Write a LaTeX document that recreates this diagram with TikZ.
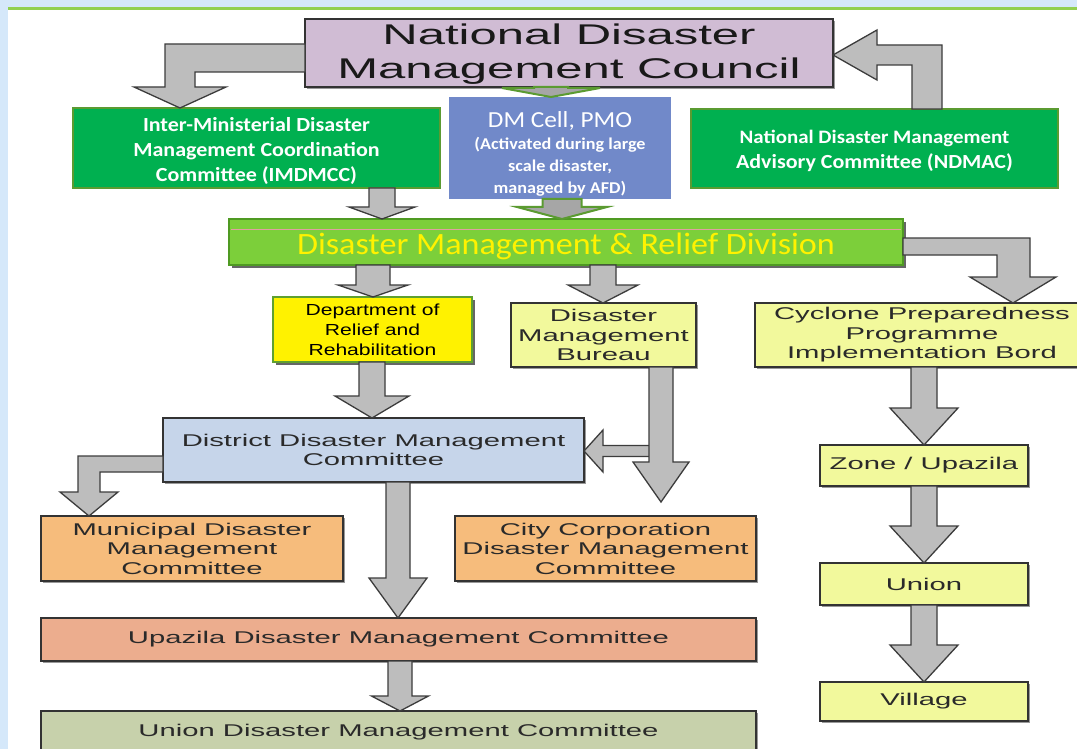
\documentclass[tikz,border=0pt]{standalone}
\usepackage{fontspec}
\usetikzlibrary{calc,shadows}
\newfontfamily\arw[FakeStretch=1.72]{Liberation Sans}
\newfontfamily\arm[FakeStretch=1.32]{Liberation Sans}
\newfontfamily\calw[FakeStretch=1.1]{Carlito}
\definecolor{bgblue}{HTML}{D5E8FA}
\definecolor{topgreen}{HTML}{92D050}
\definecolor{ndmcfill}{HTML}{D0BCD4}
\definecolor{gfill}{HTML}{00B050}
\definecolor{gborder}{HTML}{5B9B31}
\definecolor{dmcfill}{HTML}{7189C9}
\definecolor{dmrdfill}{HTML}{7CCF3A}
\definecolor{dmrdborder}{HTML}{4F9A22}
\definecolor{drrborder}{HTML}{5FA030}
\definecolor{lyfill}{HTML}{F2F99C}
\definecolor{ddmcfill}{HTML}{C6D5EA}
\definecolor{orfill}{HTML}{F6BC7C}
\definecolor{upfill}{HTML}{ECAD8E}
\definecolor{unfill}{HTML}{C7D1AB}
\definecolor{arrfill}{HTML}{BDBDBD}
\definecolor{arrline}{HTML}{3C3C3C}
\definecolor{txtgray}{HTML}{2A2A2A}
\definecolor{pinkline}{HTML}{E0A0A0}
\newcommand\boxat[7]{\node[#2, anchor=north west, minimum width={(#5)-(#3)}, minimum height={(#6)-(#4)}] (#1) at (#3,#4) {#7};}
\newcommand\barrdn[7]{\path[#1] let \p1=(#3), \p2=(#4) in (#2pt-#5pt,\y1) -- (#2pt+#5pt,\y1) -- (#2pt+#5pt,\y2+#7pt) -- (#2pt+#6pt,\y2+#7pt) -- (#2pt,\y2) -- (#2pt-#6pt,\y2+#7pt) -- (#2pt-#5pt,\y2+#7pt) -- cycle;}
\newcommand\barrlt[6]{\path[#1] let \p1=(#2), \p2=(#3) in (\x1,\y1+#4pt) -- (\x2+#6pt,\y1+#4pt) -- (\x2+#6pt,\y1+#5pt) -- (\x2,\y1) -- (\x2+#6pt,\y1-#5pt) -- (\x2+#6pt,\y1-#4pt) -- (\x1,\y1-#4pt) -- cycle;}
\begin{document}
\begin{tikzpicture}[x=1pt,y=-1pt,
  base/.style={inner sep=0pt, outer sep=0pt, align=center},
  shad/.style={drop shadow={shadow xshift=2pt,shadow yshift=-2pt,opacity=0.4,fill=black}},
  darkbox/.style={base, shad, draw=black!80, line width=1.3pt, text=txtgray, font=\arw\fontsize{17}{19.5}\selectfont},
  ndmcbox/.style={base, shad, fill=ndmcfill, draw=black!80, line width=1.5pt, text=black!90, font=\arw\fontsize{28.5}{34}\selectfont},
  greenbox/.style={base, fill=gfill, draw=gborder, line width=2.8pt, text=white, font=\calw\bfseries\fontsize{20}{25}\selectfont},
  cellbox/.style={base, fill=dmcfill, text=white, font=\calw\bfseries\fontsize{16.5}{22}\selectfont},
  dmrdbox/.style={base, fill=dmrdfill, draw=dmrdborder, line width=2.8pt, text=yellow, font=\calw\fontsize{31}{34}\selectfont, drop shadow={shadow xshift=3pt,shadow yshift=-3pt,opacity=0.6,fill=black}},
  drrbox/.style={base, fill=yellow, draw=drrborder, line width=2.8pt, text=black, font=\arm\fontsize{16}{20}\selectfont, drop shadow={shadow xshift=3pt,shadow yshift=-3pt,opacity=0.6,fill=black}},
  lybox/.style={darkbox, fill=lyfill},
  ddmcbox/.style={darkbox, fill=ddmcfill},
  orbox/.style={darkbox, fill=orfill},
  upbox/.style={darkbox, fill=upfill},
  unbox/.style={darkbox, fill=unfill},
  garrow/.style={fill=arrfill, draw=arrline, line width=1.3pt, line join=miter},
  sarrow/.style={fill=black!35, draw=gborder, line width=2pt, line join=miter}]
\useasboundingbox (0,0) rectangle (1077,749);
\clip (0,0) rectangle (1077,749);
% background
\fill[bgblue] (0,0) rectangle (1077,749);
\fill[white] (8,10) rectangle (1077,749);
\fill[topgreen] (8,7.5) rectangle (1077,10);

% boxes
\boxat{ndmc}{ndmcbox}{305}{19}{833}{87}{\rule{0pt}{23pt}National Disaster\\Management Council}
\boxat{imd}{greenbox}{73}{108}{440}{188}{\rule{0pt}{21pt}Inter-Ministerial Disaster\\Management Coordination\\Committee (IMDMCC)}
\boxat{cell}{cellbox}{449}{97}{671}{199}{{\mdseries\fontsize{23}{26}\selectfont\rule{0pt}{27pt}DM Cell, PMO}\\(Activated during large\\scale disaster,\\managed by AFD)}
\boxat{ndmac}{greenbox}{691}{109}{1058}{188}{\fontsize{19}{25}\selectfont\rule{0pt}{19pt}National Disaster Management\\Advisory Committee (NDMAC)}
\boxat{dmrd}{dmrdbox}{229}{219}{903}{265}{\rule{0pt}{30pt}Disaster Management \& Relief Division}
\draw[pinkline, line width=0.8pt] ($(dmrd.north west)+(2,10)$) -- ($(dmrd.north east)+(-2,10)$);
\boxat{drr}{drrbox}{273}{297}{472}{362}{Department of\\Relief and\\Rehabilitation}
\boxat{dmb}{lybox}{511}{303}{696}{367}{Disaster\\Management\\Bureau}
\boxat{cpp}{lybox}{755}{303}{1089}{367}{Cyclone Preparedness\\Programme\\Implementation Bord}
\boxat{ddmc}{ddmcbox}{163}{418}{584}{482}{District Disaster Management\\Committee}
\boxat{mdmc}{orbox}{41}{516}{343}{581}{Municipal Disaster\\Management\\Committee}
\boxat{ccdmc}{orbox}{455}{516}{756}{581}{City Corporation\\Disaster Management\\Committee}
\boxat{updmc}{upbox}{41}{618}{756}{661}{Upazila Disaster Management Committee}
\boxat{undmc}{unbox}{41}{711}{756}{762}{\raisebox{13pt}{Union Disaster Management Committee}}
\boxat{zone}{lybox}{820}{445}{1028}{486}{Zone / Upazila}
\boxat{union}{lybox}{820}{563}{1028}{605}{Union}
\boxat{village}{lybox}{820}{682}{1028}{721}{Village}

% elbow arrows
\path[garrow] (ndmc.west |- 0,44) -- (165,44) -- (165,87) -- (134,87) -- (imd.north -| 180,0) -- (226,87) -- (195,87) -- (195,72) -- (ndmc.west |- 0,72) -- cycle;
\path[garrow] (ndmac.north -| 912,0) -- (ndmac.north -| 942,0) -- (942,45) -- (877,45) -- (877,30) -- (ndmc.east |- 0,55) -- (877,80) -- (877,65) -- (912,65) -- cycle;
\path[garrow] (ddmc.west |- 0,456) -- (78,456) -- (78,492) -- (60,492) -- (mdmc.north -| 89,0) -- (118,492) -- (100,492) -- (100,472) -- (ddmc.west |- 0,472) -- cycle;
\path[garrow] (dmrd.east |- 0,238) -- (1030,238) -- (1030,277) -- (1056,277) -- (cpp.north -| 1013,0) -- (970,277) -- (997,277) -- (997,255) -- (dmrd.east |- 0,255) -- cycle;

% straight arrows
\barrdn{sarrow}{551}{ndmc.south}{cell.north}{17}{49}{9}
\barrdn{sarrow}{562}{cell.south}{dmrd.north}{19.5}{45}{12}
\barrdn{garrow}{382}{imd.south}{dmrd.north}{13}{33}{12}
\barrdn{garrow}{373}{dmrd.south}{drr.north}{17}{35}{12}
\barrdn{garrow}{372}{drr.south}{ddmc.north}{13}{37}{22}
\barrdn{garrow}{603}{dmrd.south}{dmb.north}{13}{35}{18}
\coordinate (br) at (652,451);
\barrlt{garrow}{br}{ddmc.east}{5.5}{21}{19}
\barrdn{garrow}{661}{dmb.south}{$(ccdmc.north)+(0,-14)$}{12}{28}{40}
\barrdn{garrow}{398}{ddmc.south}{updmc.north}{12}{29}{40}
\barrdn{garrow}{400}{updmc.south}{undmc.north}{12}{28.5}{15}
\barrdn{garrow}{924}{cpp.south}{zone.north}{13}{34}{37}
\barrdn{garrow}{924}{zone.south}{union.north}{13}{34}{37}
\barrdn{garrow}{924}{union.south}{village.north}{13}{34}{37}
\end{tikzpicture}
\end{document}
